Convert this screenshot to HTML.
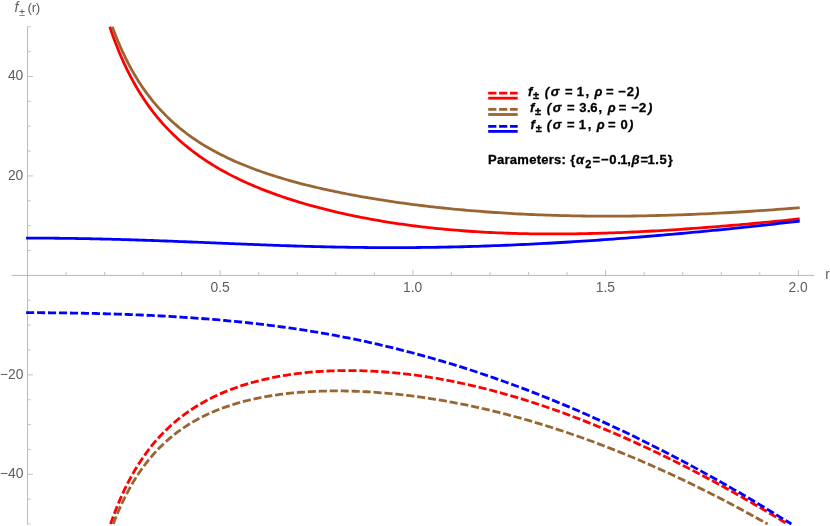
<!DOCTYPE html>
<html><head><meta charset="utf-8"><title>plot</title>
<style>
html,body{margin:0;padding:0;background:#fff;}
body{width:830px;height:526px;overflow:hidden;position:relative;font-family:"Liberation Sans",sans-serif;}
svg{position:absolute;left:0;top:0;display:block;will-change:transform;}
text{font-family:"Liberation Sans",sans-serif;}
.tk{font-size:13.8px;fill:#5e5e5e;}
.lg{font-size:13px;font-weight:bold;fill:#000;stroke:#000;stroke-width:0.3px;}
.it{font-style:italic;}
</style></head><body>
<svg width="830" height="526" viewBox="0 0 830 526">
<defs><clipPath id="cp"><rect x="0" y="26" width="830" height="498.6"/></clipPath></defs>
<rect width="830" height="526" fill="#fff"/>
<g stroke="#b8b8b8" stroke-width="1" fill="none">
<line x1="11.6" x2="814.1" y1="275.4" y2="275.4"/>
<line x1="27.55" x2="27.55" y1="26.8" y2="524.2"/>
</g>
<g stroke="#c2c2c2" stroke-width="1" fill="none">
<line x1="66.00" x2="66.00" y1="275.40" y2="272.10"/>
<line x1="104.54" x2="104.54" y1="275.40" y2="272.10"/>
<line x1="143.09" x2="143.09" y1="275.40" y2="272.10"/>
<line x1="181.63" x2="181.63" y1="275.40" y2="272.10"/>
<line x1="220.17" x2="220.17" y1="275.40" y2="269.90"/>
<line x1="258.72" x2="258.72" y1="275.40" y2="272.10"/>
<line x1="297.26" x2="297.26" y1="275.40" y2="272.10"/>
<line x1="335.81" x2="335.81" y1="275.40" y2="272.10"/>
<line x1="374.35" x2="374.35" y1="275.40" y2="272.10"/>
<line x1="412.90" x2="412.90" y1="275.40" y2="269.90"/>
<line x1="451.44" x2="451.44" y1="275.40" y2="272.10"/>
<line x1="489.99" x2="489.99" y1="275.40" y2="272.10"/>
<line x1="528.53" x2="528.53" y1="275.40" y2="272.10"/>
<line x1="567.08" x2="567.08" y1="275.40" y2="272.10"/>
<line x1="605.62" x2="605.62" y1="275.40" y2="269.90"/>
<line x1="644.17" x2="644.17" y1="275.40" y2="272.10"/>
<line x1="682.72" x2="682.72" y1="275.40" y2="272.10"/>
<line x1="721.26" x2="721.26" y1="275.40" y2="272.10"/>
<line x1="759.81" x2="759.81" y1="275.40" y2="272.10"/>
<line x1="798.35" x2="798.35" y1="275.40" y2="269.90"/>
<line x1="27.45" x2="30.75" y1="524.02" y2="524.02"/>
<line x1="27.45" x2="30.75" y1="499.16" y2="499.16"/>
<line x1="27.45" x2="32.95" y1="474.30" y2="474.30"/>
<line x1="27.45" x2="30.75" y1="449.44" y2="449.44"/>
<line x1="27.45" x2="30.75" y1="424.57" y2="424.57"/>
<line x1="27.45" x2="30.75" y1="399.71" y2="399.71"/>
<line x1="27.45" x2="32.95" y1="374.85" y2="374.85"/>
<line x1="27.45" x2="30.75" y1="349.99" y2="349.99"/>
<line x1="27.45" x2="30.75" y1="325.12" y2="325.12"/>
<line x1="27.45" x2="30.75" y1="300.26" y2="300.26"/>
<line x1="27.45" x2="30.75" y1="250.54" y2="250.54"/>
<line x1="27.45" x2="30.75" y1="225.67" y2="225.67"/>
<line x1="27.45" x2="30.75" y1="200.81" y2="200.81"/>
<line x1="27.45" x2="32.95" y1="175.95" y2="175.95"/>
<line x1="27.45" x2="30.75" y1="151.09" y2="151.09"/>
<line x1="27.45" x2="30.75" y1="126.22" y2="126.22"/>
<line x1="27.45" x2="30.75" y1="101.36" y2="101.36"/>
<line x1="27.45" x2="32.95" y1="76.50" y2="76.50"/>
<line x1="27.45" x2="30.75" y1="51.64" y2="51.64"/>
<line x1="27.45" x2="30.75" y1="26.77" y2="26.77"/>
</g>
<g fill="none" stroke-width="2.8" stroke-linejoin="round">
<path d="M109.77,26.78 L109.96,27.33 L110.30,28.34 L110.74,29.64 L111.26,31.16 L111.85,32.86 L112.51,34.71 L113.22,36.69 L113.99,38.78 L114.80,40.97 L115.66,43.24 L116.57,45.58 L117.52,47.98 L118.51,50.42 L119.53,52.91 L120.60,55.43 L121.70,57.97 L122.83,60.54 L124.00,63.12 L125.20,65.71 L126.44,68.30 L127.70,70.89 L129.00,73.48 L130.33,76.06 L131.68,78.63 L133.07,81.18 L134.48,83.72 L135.92,86.25 L137.38,88.75 L138.87,91.23 L140.39,93.69 L141.94,96.12 L143.50,98.53 L145.10,100.91 L146.72,103.26 L148.36,105.58 L150.02,107.88 L151.71,110.14 L153.42,112.38 L155.16,114.58 L156.92,116.76 L158.70,118.90 L160.50,121.02 L162.32,123.10 L164.16,125.15 L166.03,127.17 L167.91,129.16 L169.82,131.12 L171.75,133.05 L173.69,134.95 L175.66,136.82 L177.65,138.67 L179.65,140.48 L181.68,142.26 L183.72,144.02 L185.79,145.75 L187.87,147.45 L189.97,149.12 L192.09,150.77 L194.23,152.39 L196.38,153.99 L198.56,155.56 L200.75,157.10 L202.96,158.62 L205.19,160.12 L207.43,161.60 L209.69,163.05 L211.97,164.47 L214.27,165.88 L216.58,167.26 L218.92,168.62 L221.26,169.96 L223.63,171.28 L226.01,172.58 L228.40,173.86 L230.82,175.12 L233.24,176.37 L235.69,177.59 L238.15,178.79 L240.63,179.98 L243.12,181.15 L245.63,182.30 L248.15,183.43 L250.69,184.55 L253.24,185.64 L255.81,186.73 L258.40,187.80 L261.00,188.85 L263.61,189.88 L266.24,190.91 L268.89,191.91 L271.55,192.90 L274.22,193.88 L276.91,194.85 L279.61,195.79 L282.33,196.73 L285.06,197.65 L287.81,198.56 L290.57,199.45 L293.34,200.34 L296.13,201.21 L298.93,202.06 L301.75,202.91 L304.58,203.74 L307.42,204.56 L310.28,205.36 L313.15,206.16 L316.04,206.94 L318.94,207.71 L321.85,208.47 L324.77,209.22 L327.71,209.95 L330.66,210.68 L333.63,211.39 L336.61,212.09 L339.60,212.78 L342.60,213.46 L345.62,214.13 L348.65,214.78 L351.69,215.43 L354.75,216.06 L357.82,216.68 L360.90,217.29 L363.99,217.89 L367.10,218.48 L370.22,219.06 L373.35,219.63 L376.49,220.18 L379.65,220.73 L382.82,221.26 L386.00,221.78 L389.19,222.29 L392.40,222.80 L395.62,223.28 L398.85,223.76 L402.09,224.23 L405.34,224.69 L408.61,225.13 L411.89,225.56 L415.18,225.99 L418.48,226.40 L421.79,226.80 L425.12,227.19 L428.45,227.57 L431.80,227.93 L435.16,228.29 L438.54,228.63 L441.92,228.97 L445.31,229.29 L448.72,229.60 L452.14,229.90 L455.57,230.19 L459.01,230.47 L462.46,230.74 L465.92,231.00 L469.40,231.24 L472.89,231.48 L476.38,231.70 L479.89,231.91 L483.41,232.11 L486.94,232.30 L490.48,232.49 L494.03,232.66 L497.60,232.81 L501.17,232.96 L504.76,233.10 L508.35,233.23 L511.96,233.35 L515.58,233.45 L519.21,233.55 L522.85,233.64 L526.50,233.71 L530.16,233.78 L533.83,233.83 L537.51,233.88 L541.20,233.92 L544.91,233.94 L548.62,233.96 L552.35,233.97 L556.08,233.96 L559.83,233.95 L563.58,233.93 L567.35,233.90 L571.12,233.86 L574.91,233.81 L578.71,233.75 L582.51,233.68 L586.33,233.61 L590.16,233.52 L594.00,233.43 L597.85,233.33 L601.70,233.22 L605.57,233.10 L609.45,232.97 L613.34,232.83 L617.24,232.68 L621.15,232.53 L625.07,232.37 L628.99,232.20 L632.93,232.02 L636.88,231.84 L640.84,231.64 L644.81,231.44 L648.79,231.23 L652.77,231.02 L656.77,230.79 L660.78,230.56 L664.80,230.32 L668.82,230.07 L672.86,229.82 L676.91,229.56 L680.96,229.29 L685.03,229.01 L689.10,228.73 L693.19,228.44 L697.28,228.14 L701.38,227.83 L705.50,227.52 L709.62,227.20 L713.75,226.88 L717.89,226.55 L722.04,226.21 L726.20,225.86 L730.37,225.51 L734.55,225.15 L738.74,224.79 L742.94,224.41 L747.15,224.04 L751.36,223.65 L755.59,223.26 L759.82,222.86 L764.07,222.46 L768.32,222.05 L772.58,221.63 L776.86,221.21 L781.14,220.78 L785.43,220.34 L789.72,219.90 L794.03,219.45 L798.35,219.00 L799.70,218.85" stroke="#ff0000" />
<path d="M112.30,26.77 L112.48,27.28 L112.82,28.20 L113.26,29.38 L113.78,30.77 L114.37,32.32 L115.03,34.00 L115.74,35.81 L116.50,37.72 L117.31,39.71 L118.17,41.78 L119.07,43.91 L120.02,46.09 L121.00,48.32 L122.03,50.59 L123.09,52.88 L124.18,55.20 L125.31,57.54 L126.48,59.89 L127.68,62.25 L128.91,64.61 L130.17,66.97 L131.46,69.32 L132.78,71.67 L134.13,74.01 L135.51,76.33 L136.91,78.64 L138.35,80.94 L139.81,83.21 L141.30,85.47 L142.81,87.70 L144.35,89.90 L145.91,92.09 L147.50,94.24 L149.11,96.38 L150.75,98.48 L152.41,100.56 L154.09,102.60 L155.79,104.62 L157.52,106.61 L159.27,108.58 L161.04,110.51 L162.84,112.41 L164.65,114.29 L166.49,116.13 L168.35,117.95 L170.23,119.73 L172.13,121.49 L174.05,123.22 L175.99,124.92 L177.95,126.59 L179.92,128.24 L181.92,129.85 L183.94,131.44 L185.98,133.01 L188.03,134.54 L190.11,136.05 L192.20,137.54 L194.32,139.00 L196.45,140.43 L198.59,141.84 L200.76,143.23 L202.94,144.59 L205.15,145.93 L207.37,147.25 L209.60,148.54 L211.86,149.82 L214.13,151.07 L216.42,152.30 L218.72,153.51 L221.04,154.70 L223.38,155.87 L225.74,157.02 L228.11,158.15 L230.50,159.26 L232.90,160.36 L235.32,161.43 L237.76,162.49 L240.21,163.54 L242.68,164.56 L245.16,165.57 L247.66,166.56 L250.17,167.54 L252.70,168.50 L255.25,169.45 L257.81,170.38 L260.38,171.30 L262.97,172.21 L265.58,173.10 L268.20,173.98 L270.83,174.84 L273.48,175.69 L276.15,176.53 L278.83,177.35 L281.52,178.17 L284.23,178.97 L286.95,179.76 L289.68,180.54 L292.43,181.31 L295.20,182.06 L297.98,182.81 L300.77,183.55 L303.57,184.27 L306.39,184.99 L309.23,185.69 L312.07,186.38 L314.94,187.07 L317.81,187.75 L320.70,188.41 L323.60,189.07 L326.51,189.72 L329.44,190.35 L332.38,190.98 L335.34,191.61 L338.30,192.22 L341.28,192.82 L344.28,193.42 L347.28,194.00 L350.30,194.58 L353.33,195.15 L356.38,195.72 L359.44,196.27 L362.51,196.82 L365.59,197.36 L368.68,197.89 L371.79,198.41 L374.91,198.93 L378.04,199.43 L381.19,199.93 L384.35,200.43 L387.52,200.91 L390.70,201.39 L393.89,201.86 L397.10,202.32 L400.31,202.78 L403.55,203.22 L406.79,203.66 L410.04,204.10 L413.31,204.52 L416.58,204.94 L419.87,205.35 L423.18,205.75 L426.49,206.15 L429.81,206.54 L433.15,206.92 L436.50,207.29 L439.86,207.66 L443.23,208.01 L446.61,208.37 L450.01,208.71 L453.41,209.05 L456.83,209.37 L460.26,209.69 L463.69,210.01 L467.15,210.31 L470.61,210.61 L474.08,210.90 L477.56,211.18 L481.06,211.46 L484.57,211.73 L488.08,211.99 L491.61,212.24 L495.15,212.48 L498.70,212.72 L502.26,212.95 L505.84,213.17 L509.42,213.38 L513.01,213.59 L516.62,213.79 L520.23,213.98 L523.86,214.16 L527.50,214.33 L531.14,214.50 L534.80,214.66 L538.47,214.81 L542.15,214.95 L545.84,215.08 L549.54,215.21 L553.25,215.33 L556.97,215.44 L560.70,215.54 L564.44,215.64 L568.20,215.72 L571.96,215.80 L575.73,215.87 L579.51,215.94 L583.31,215.99 L587.11,216.04 L590.92,216.08 L594.75,216.11 L598.58,216.13 L602.43,216.14 L606.28,216.15 L610.15,216.15 L614.02,216.14 L617.90,216.12 L621.80,216.10 L625.70,216.07 L629.62,216.03 L633.54,215.98 L637.47,215.92 L641.42,215.86 L645.37,215.78 L649.34,215.70 L653.31,215.62 L657.29,215.52 L661.28,215.42 L665.29,215.31 L669.30,215.19 L673.32,215.06 L677.35,214.93 L681.39,214.79 L685.44,214.64 L689.50,214.48 L693.57,214.32 L697.65,214.14 L701.74,213.96 L705.84,213.78 L709.95,213.58 L714.06,213.38 L718.19,213.17 L722.32,212.95 L726.47,212.73 L730.62,212.50 L734.79,212.26 L738.96,212.01 L743.14,211.76 L747.33,211.49 L751.54,211.23 L755.75,210.95 L759.97,210.67 L764.19,210.38 L768.43,210.08 L772.68,209.78 L776.93,209.46 L781.20,209.14 L785.47,208.82 L789.76,208.49 L794.05,208.15 L798.35,207.80 L799.70,207.69" stroke="#996633" />
<path d="M26.10,238.11 L27.64,238.11 L27.85,238.11 L28.23,238.11 L28.73,238.11 L29.31,238.11 L29.97,238.11 L30.71,238.11 L31.51,238.11 L32.36,238.11 L33.27,238.11 L34.24,238.11 L35.25,238.12 L36.31,238.12 L37.42,238.12 L38.57,238.13 L39.76,238.13 L40.99,238.14 L42.26,238.14 L43.57,238.15 L44.92,238.16 L46.30,238.17 L47.72,238.17 L49.17,238.18 L50.65,238.20 L52.17,238.21 L53.72,238.22 L55.30,238.24 L56.91,238.25 L58.55,238.27 L60.22,238.28 L61.92,238.30 L63.65,238.32 L65.40,238.35 L67.19,238.37 L69.00,238.39 L70.83,238.42 L72.70,238.45 L74.59,238.47 L76.50,238.50 L78.45,238.54 L80.41,238.57 L82.40,238.60 L84.42,238.64 L86.46,238.68 L88.52,238.72 L90.61,238.76 L92.72,238.80 L94.85,238.85 L97.01,238.90 L99.19,238.95 L101.39,239.00 L103.61,239.05 L105.86,239.10 L108.13,239.16 L110.41,239.22 L112.72,239.28 L115.06,239.34 L117.41,239.41 L119.78,239.47 L122.17,239.54 L124.59,239.61 L127.02,239.68 L129.47,239.76 L131.95,239.83 L134.44,239.91 L136.95,239.99 L139.49,240.07 L142.04,240.16 L144.61,240.24 L147.20,240.33 L149.81,240.42 L152.43,240.52 L155.08,240.61 L157.74,240.70 L160.43,240.80 L163.13,240.90 L165.84,241.00 L168.58,241.11 L171.34,241.21 L174.11,241.32 L176.90,241.43 L179.70,241.54 L182.53,241.65 L185.37,241.76 L188.23,241.87 L191.11,241.99 L194.00,242.11 L196.91,242.22 L199.84,242.34 L202.78,242.46 L205.74,242.58 L208.72,242.71 L211.71,242.83 L214.72,242.95 L217.74,243.08 L220.79,243.20 L223.84,243.33 L226.92,243.45 L230.01,243.58 L233.11,243.71 L236.23,243.83 L239.37,243.96 L242.52,244.09 L245.69,244.21 L248.87,244.34 L252.07,244.46 L255.28,244.59 L258.51,244.71 L261.76,244.83 L265.02,244.96 L268.29,245.08 L271.58,245.20 L274.88,245.32 L278.20,245.43 L281.54,245.55 L284.88,245.66 L288.25,245.77 L291.62,245.88 L295.01,245.99 L298.42,246.10 L301.84,246.20 L305.28,246.30 L308.72,246.40 L312.19,246.49 L315.66,246.59 L319.16,246.67 L322.66,246.76 L326.18,246.84 L329.71,246.92 L333.26,247.00 L336.82,247.07 L340.39,247.14 L343.98,247.20 L347.58,247.26 L351.20,247.32 L354.83,247.37 L358.47,247.42 L362.13,247.46 L365.79,247.50 L369.48,247.53 L373.17,247.56 L376.88,247.58 L380.60,247.60 L384.34,247.62 L388.09,247.62 L391.85,247.63 L395.62,247.63 L399.41,247.62 L403.21,247.61 L407.02,247.59 L410.85,247.57 L414.68,247.54 L418.54,247.50 L422.40,247.46 L426.28,247.42 L430.17,247.36 L434.07,247.31 L437.98,247.24 L441.91,247.17 L445.85,247.10 L449.80,247.02 L453.76,246.93 L457.74,246.84 L461.73,246.74 L465.73,246.63 L469.74,246.52 L473.77,246.40 L477.80,246.28 L481.85,246.15 L485.91,246.01 L489.99,245.87 L494.07,245.72 L498.17,245.57 L502.28,245.40 L506.40,245.24 L510.53,245.06 L514.68,244.89 L518.84,244.70 L523.00,244.51 L527.18,244.31 L531.38,244.11 L535.58,243.89 L539.80,243.68 L544.02,243.46 L548.26,243.23 L552.51,242.99 L556.77,242.75 L561.05,242.50 L565.33,242.25 L569.63,241.99 L573.93,241.72 L578.25,241.45 L582.58,241.17 L586.92,240.89 L591.27,240.60 L595.64,240.30 L600.01,240.00 L604.40,239.69 L608.80,239.37 L613.20,239.05 L617.62,238.72 L622.05,238.39 L626.49,238.05 L630.95,237.71 L635.41,237.35 L639.89,237.00 L644.37,236.63 L648.87,236.26 L653.37,235.89 L657.89,235.51 L662.42,235.12 L666.96,234.72 L671.51,234.32 L676.07,233.92 L680.64,233.51 L685.23,233.09 L689.82,232.66 L694.42,232.23 L699.04,231.80 L703.66,231.35 L708.30,230.91 L712.94,230.45 L717.60,229.99 L722.27,229.53 L726.94,229.05 L731.63,228.58 L736.33,228.09 L741.04,227.60 L745.76,227.10 L750.49,226.60 L755.23,226.09 L759.98,225.58 L764.74,225.06 L769.51,224.53 L774.29,224.00 L779.08,223.46 L783.88,222.92 L788.70,222.36 L793.52,221.81 L798.35,221.24 L799.70,221.09" stroke="#0000ff" />
<path d="M110.55,524.03 L110.73,523.50 L111.07,522.54 L111.50,521.31 L112.01,519.88 L112.60,518.27 L113.24,516.51 L113.94,514.64 L114.70,512.66 L115.50,510.59 L116.34,508.44 L117.23,506.23 L118.17,503.97 L119.14,501.65 L120.15,499.30 L121.19,496.92 L122.28,494.52 L123.39,492.10 L124.54,489.67 L125.72,487.23 L126.94,484.79 L128.18,482.35 L129.46,479.91 L130.76,477.49 L132.09,475.07 L133.45,472.67 L134.84,470.29 L136.25,467.93 L137.70,465.59 L139.16,463.27 L140.66,460.98 L142.17,458.72 L143.72,456.48 L145.28,454.27 L146.87,452.09 L148.49,449.94 L150.12,447.82 L151.79,445.73 L153.47,443.68 L155.17,441.66 L156.90,439.67 L158.65,437.71 L160.42,435.79 L162.21,433.90 L164.02,432.04 L165.86,430.22 L167.71,428.43 L169.59,426.68 L171.48,424.95 L173.39,423.26 L175.33,421.61 L177.28,419.98 L179.25,418.39 L181.24,416.83 L183.25,415.30 L185.28,413.81 L187.33,412.34 L189.40,410.91 L191.48,409.50 L193.58,408.13 L195.70,406.79 L197.84,405.47 L200.00,404.19 L202.17,402.93 L204.36,401.71 L206.57,400.51 L208.79,399.34 L211.03,398.19 L213.29,397.08 L215.56,395.99 L217.85,394.93 L220.16,393.89 L222.49,392.88 L224.83,391.89 L227.18,390.94 L229.55,390.00 L231.94,389.09 L234.35,388.21 L236.77,387.35 L239.20,386.51 L241.65,385.70 L244.12,384.91 L246.60,384.14 L249.09,383.40 L251.61,382.67 L254.13,381.98 L256.67,381.30 L259.23,380.65 L261.80,380.01 L264.39,379.40 L266.99,378.81 L269.60,378.24 L272.23,377.70 L274.87,377.17 L277.53,376.67 L280.20,376.18 L282.89,375.72 L285.59,375.28 L288.30,374.85 L291.03,374.45 L293.77,374.07 L296.53,373.70 L299.29,373.36 L302.08,373.04 L304.87,372.74 L307.68,372.45 L310.50,372.19 L313.34,371.95 L316.19,371.72 L319.05,371.52 L321.93,371.33 L324.82,371.17 L327.72,371.02 L330.64,370.89 L333.56,370.79 L336.50,370.70 L339.46,370.63 L342.42,370.59 L345.40,370.56 L348.39,370.55 L351.40,370.56 L354.42,370.59 L357.45,370.64 L360.49,370.71 L363.54,370.80 L366.61,370.91 L369.69,371.04 L372.78,371.19 L375.88,371.36 L379.00,371.55 L382.12,371.76 L385.26,371.99 L388.42,372.24 L391.58,372.51 L394.75,372.80 L397.94,373.11 L401.14,373.44 L404.35,373.80 L407.57,374.17 L410.81,374.56 L414.05,374.98 L417.31,375.42 L420.58,375.87 L423.86,376.35 L427.15,376.85 L430.46,377.37 L433.77,377.91 L437.10,378.48 L440.44,379.06 L443.79,379.67 L447.15,380.29 L450.52,380.94 L453.90,381.61 L457.30,382.31 L460.70,383.02 L464.12,383.75 L467.54,384.51 L470.98,385.29 L474.43,386.09 L477.89,386.92 L481.36,387.76 L484.84,388.63 L488.34,389.52 L491.84,390.43 L495.35,391.36 L498.88,392.31 L502.41,393.29 L505.96,394.29 L509.52,395.31 L513.09,396.35 L516.66,397.42 L520.25,398.50 L523.85,399.61 L527.46,400.74 L531.08,401.90 L534.71,403.07 L538.35,404.27 L542.00,405.49 L545.66,406.73 L549.34,408.00 L553.02,409.28 L556.71,410.59 L560.41,411.92 L564.13,413.27 L567.85,414.64 L571.58,416.04 L575.33,417.46 L579.08,418.90 L582.84,420.36 L586.62,421.84 L590.40,423.35 L594.19,424.88 L598.00,426.43 L601.81,428.00 L605.63,429.59 L609.46,431.21 L613.31,432.84 L617.16,434.50 L621.02,436.18 L624.89,437.89 L628.78,439.61 L632.67,441.36 L636.57,443.13 L640.48,444.92 L644.40,446.73 L648.33,448.56 L652.27,450.42 L656.22,452.30 L660.18,454.20 L664.15,456.12 L668.12,458.06 L672.11,460.03 L676.11,462.01 L680.12,464.02 L684.13,466.05 L688.16,468.11 L692.19,470.18 L696.23,472.28 L700.29,474.40 L704.35,476.54 L708.42,478.70 L712.50,480.89 L716.59,483.10 L720.69,485.33 L724.80,487.58 L728.92,489.85 L733.05,492.15 L737.18,494.47 L741.33,496.81 L745.48,499.17 L749.65,501.55 L753.82,503.96 L758.00,506.39 L762.19,508.84 L766.39,511.32 L770.60,513.81 L774.82,516.33 L779.04,518.87 L783.28,521.44 L787.52,524.02" stroke="#ff0000" stroke-dasharray="8.1 2.86" />
<path d="M113.21,524.03 L113.39,523.56 L113.71,522.72 L114.13,521.64 L114.63,520.38 L115.19,518.96 L115.81,517.42 L116.49,515.77 L117.22,514.02 L117.99,512.20 L118.81,510.30 L119.67,508.35 L120.57,506.35 L121.51,504.31 L122.49,502.23 L123.50,500.13 L124.54,498.00 L125.62,495.86 L126.73,493.70 L127.88,491.54 L129.05,489.38 L130.25,487.21 L131.48,485.05 L132.74,482.90 L134.03,480.76 L135.35,478.63 L136.69,476.52 L138.06,474.42 L139.45,472.34 L140.87,470.28 L142.31,468.25 L143.78,466.23 L145.27,464.25 L146.78,462.28 L148.32,460.35 L149.88,458.44 L151.47,456.56 L153.07,454.71 L154.70,452.89 L156.35,451.09 L158.02,449.33 L159.71,447.60 L161.42,445.90 L163.15,444.23 L164.90,442.59 L166.67,440.98 L168.47,439.40 L170.28,437.85 L172.11,436.33 L173.96,434.84 L175.83,433.39 L177.72,431.96 L179.62,430.56 L181.55,429.19 L183.49,427.86 L185.45,426.55 L187.43,425.27 L189.43,424.02 L191.44,422.80 L193.48,421.60 L195.52,420.44 L197.59,419.30 L199.67,418.19 L201.77,417.10 L203.89,416.05 L206.03,415.01 L208.18,414.01 L210.34,413.03 L212.52,412.08 L214.72,411.15 L216.94,410.24 L219.17,409.36 L221.42,408.51 L223.68,407.67 L225.96,406.86 L228.25,406.08 L230.56,405.32 L232.88,404.58 L235.22,403.86 L237.57,403.16 L239.94,402.49 L242.33,401.84 L244.72,401.20 L247.14,400.59 L249.57,400.00 L252.01,399.43 L254.46,398.89 L256.93,398.36 L259.42,397.85 L261.92,397.36 L264.43,396.89 L266.96,396.44 L269.50,396.00 L272.06,395.59 L274.63,395.20 L277.21,394.82 L279.80,394.46 L282.41,394.12 L285.04,393.80 L287.67,393.49 L290.32,393.21 L292.99,392.94 L295.66,392.69 L298.35,392.45 L301.06,392.23 L303.77,392.03 L306.50,391.85 L309.24,391.68 L312.00,391.53 L314.77,391.40 L317.55,391.28 L320.34,391.18 L323.14,391.10 L325.96,391.03 L328.79,390.98 L331.63,390.94 L334.49,390.92 L337.36,390.92 L340.24,390.93 L343.13,390.96 L346.03,391.01 L348.95,391.07 L351.88,391.15 L354.82,391.24 L357.77,391.35 L360.74,391.47 L363.71,391.61 L366.70,391.77 L369.70,391.94 L372.71,392.13 L375.73,392.34 L378.77,392.56 L381.82,392.80 L384.87,393.05 L387.94,393.32 L391.03,393.60 L394.12,393.91 L397.22,394.22 L400.34,394.56 L403.46,394.91 L406.60,395.27 L409.75,395.66 L412.91,396.06 L416.08,396.47 L419.27,396.91 L422.46,397.36 L425.66,397.82 L428.88,398.30 L432.11,398.80 L435.34,399.32 L438.59,399.85 L441.85,400.41 L445.12,400.97 L448.40,401.56 L451.69,402.16 L455.00,402.78 L458.31,403.42 L461.63,404.07 L464.97,404.74 L468.31,405.43 L471.67,406.14 L475.03,406.87 L478.41,407.61 L481.80,408.37 L485.19,409.15 L488.60,409.95 L492.02,410.76 L495.45,411.60 L498.88,412.45 L502.33,413.32 L505.79,414.21 L509.26,415.12 L512.74,416.05 L516.23,416.99 L519.73,417.96 L523.24,418.94 L526.76,419.94 L530.29,420.96 L533.83,422.00 L537.38,423.06 L540.94,424.14 L544.51,425.24 L548.08,426.36 L551.67,427.49 L555.27,428.65 L558.88,429.83 L562.50,431.02 L566.13,432.24 L569.77,433.48 L573.41,434.73 L577.07,436.01 L580.74,437.30 L584.41,438.62 L588.10,439.95 L591.80,441.31 L595.50,442.69 L599.22,444.08 L602.94,445.50 L606.67,446.94 L610.42,448.39 L614.17,449.87 L617.93,451.37 L621.70,452.89 L625.48,454.43 L629.27,455.99 L633.07,457.57 L636.88,459.17 L640.70,460.80 L644.52,462.44 L648.36,464.11 L652.21,465.79 L656.06,467.50 L659.92,469.23 L663.80,470.98 L667.68,472.75 L671.57,474.54 L675.47,476.35 L679.38,478.19 L683.30,480.04 L687.23,481.92 L691.16,483.82 L695.11,485.74 L699.06,487.68 L703.02,489.64 L707.00,491.63 L710.98,493.64 L714.97,495.66 L718.96,497.71 L722.97,499.79 L726.99,501.88 L731.01,504.00 L735.05,506.13 L739.09,508.29 L743.14,510.47 L747.20,512.68 L751.27,514.90 L755.34,517.15 L759.43,519.42 L763.52,521.71 L767.63,524.02" stroke="#996633" stroke-dasharray="8.1 2.86" />
<path d="M26.10,312.69 L27.64,312.69 L27.85,312.69 L28.23,312.69 L28.72,312.69 L29.30,312.69 L29.95,312.69 L30.68,312.70 L31.47,312.70 L32.32,312.70 L33.22,312.70 L34.18,312.70 L35.18,312.70 L36.23,312.71 L37.33,312.71 L38.47,312.71 L39.65,312.72 L40.87,312.72 L42.13,312.73 L43.43,312.74 L44.76,312.74 L46.13,312.75 L47.53,312.76 L48.97,312.77 L50.44,312.78 L51.94,312.79 L53.48,312.81 L55.04,312.82 L56.64,312.84 L58.27,312.85 L59.92,312.87 L61.60,312.89 L63.32,312.91 L65.06,312.93 L66.82,312.96 L68.62,312.98 L70.44,313.01 L72.29,313.03 L74.16,313.06 L76.06,313.09 L77.98,313.13 L79.93,313.16 L81.90,313.20 L83.90,313.24 L85.92,313.28 L87.97,313.32 L90.03,313.36 L92.13,313.41 L94.24,313.46 L96.38,313.51 L98.54,313.56 L100.72,313.62 L102.92,313.67 L105.15,313.73 L107.39,313.80 L109.66,313.86 L111.95,313.93 L114.26,314.00 L116.59,314.08 L118.94,314.15 L121.31,314.23 L123.70,314.32 L126.11,314.40 L128.54,314.49 L131.00,314.58 L133.47,314.68 L135.96,314.78 L138.47,314.88 L140.99,314.99 L143.54,315.10 L146.11,315.22 L148.69,315.34 L151.29,315.46 L153.92,315.59 L156.56,315.72 L159.21,315.85 L161.89,315.99 L164.58,316.14 L167.29,316.29 L170.02,316.44 L172.77,316.60 L175.54,316.77 L178.32,316.94 L181.12,317.11 L183.93,317.29 L186.76,317.48 L189.61,317.67 L192.48,317.87 L195.36,318.08 L198.26,318.29 L201.18,318.50 L204.11,318.73 L207.06,318.96 L210.03,319.20 L213.01,319.44 L216.01,319.69 L219.02,319.95 L222.05,320.22 L225.10,320.50 L228.16,320.78 L231.24,321.07 L234.33,321.37 L237.44,321.68 L240.56,321.99 L243.70,322.32 L246.85,322.65 L250.02,323.00 L253.21,323.35 L256.41,323.71 L259.62,324.09 L262.85,324.47 L266.09,324.86 L269.35,325.27 L272.63,325.68 L275.92,326.11 L279.22,326.55 L282.54,327.00 L285.87,327.46 L289.21,327.93 L292.57,328.41 L295.95,328.91 L299.34,329.42 L302.74,329.94 L306.16,330.47 L309.59,331.02 L313.04,331.58 L316.50,332.16 L319.97,332.74 L323.46,333.35 L326.96,333.96 L330.47,334.59 L334.00,335.24 L337.54,335.90 L341.10,336.57 L344.66,337.27 L348.25,337.97 L351.84,338.69 L355.45,339.43 L359.07,340.18 L362.71,340.95 L366.36,341.74 L370.02,342.54 L373.69,343.36 L377.38,344.20 L381.08,345.05 L384.80,345.92 L388.52,346.81 L392.26,347.72 L396.02,348.64 L399.78,349.58 L403.56,350.54 L407.35,351.52 L411.15,352.51 L414.97,353.53 L418.80,354.56 L422.64,355.61 L426.49,356.68 L430.36,357.77 L434.24,358.88 L438.13,360.01 L442.03,361.15 L445.95,362.32 L449.87,363.51 L453.81,364.71 L457.77,365.94 L461.73,367.19 L465.71,368.45 L469.69,369.74 L473.70,371.04 L477.71,372.37 L481.73,373.72 L485.77,375.09 L489.82,376.48 L493.88,377.88 L497.95,379.32 L502.03,380.77 L506.13,382.24 L510.24,383.73 L514.35,385.25 L518.48,386.78 L522.63,388.34 L526.78,389.92 L530.95,391.52 L535.12,393.14 L539.31,394.79 L543.51,396.45 L547.72,398.14 L551.94,399.85 L556.18,401.58 L560.42,403.33 L564.68,405.11 L568.95,406.91 L573.23,408.73 L577.52,410.57 L581.82,412.44 L586.13,414.32 L590.45,416.24 L594.79,418.17 L599.14,420.13 L603.49,422.11 L607.86,424.11 L612.24,426.13 L616.63,428.18 L621.03,430.25 L625.44,432.35 L629.86,434.47 L634.30,436.61 L638.74,438.78 L643.20,440.97 L647.66,443.18 L652.14,445.42 L656.63,447.68 L661.13,449.96 L665.63,452.27 L670.15,454.61 L674.68,456.96 L679.22,459.34 L683.78,461.75 L688.34,464.18 L692.91,466.64 L697.49,469.12 L702.09,471.62 L706.69,474.15 L711.30,476.71 L715.93,479.28 L720.56,481.89 L725.21,484.52 L729.86,487.17 L734.53,489.85 L739.21,492.56 L743.89,495.29 L748.59,498.05 L753.30,500.83 L758.01,503.64 L762.74,506.47 L767.48,509.33 L772.23,512.22 L776.98,515.13 L781.75,518.07 L786.53,521.03 L791.32,524.02" stroke="#0000ff" stroke-dasharray="8.1 2.86" />
</g>
<!-- tick labels -->
<g class="tk" text-anchor="end">
<text x="23.3" y="80.4">40</text>
<text x="23.3" y="179.8">20</text>
<text x="23.3" y="378.6">−20</text>
<text x="23.3" y="478.1">−40</text>
</g>
<g class="tk" text-anchor="middle">
<text x="220.1" y="291.8">0.5</text>
<text x="412.6" y="291.8">1.0</text>
<text x="605.3" y="291.8">1.5</text>
<text x="798.1" y="291.8">2.0</text>
</g>
<text class="tk" x="825.2" y="278.5">r</text>
<!-- axis title -->
<text class="tk it" x="14.5" y="11.5" style="font-size:14.2px">f</text>
<text class="tk" x="19.0" y="16.0" style="font-size:11px">±</text>
<text class="tk" x="27.5" y="11.6" style="font-size:13.5px;letter-spacing:-0.35px">(r)</text>
<!-- legend lines -->
<g fill="none" stroke-width="2.8">
<line x1="488.2" x2="517.7" y1="93.2" y2="93.2" stroke="#ff0000" stroke-dasharray="8.2 2.7"/>
<line x1="488.2" x2="517.7" y1="98.2" y2="98.2" stroke="#ff0000"/>
<line x1="488.2" x2="517.7" y1="109.4" y2="109.4" stroke="#996633" stroke-dasharray="8.2 2.7"/>
<line x1="488.2" x2="517.7" y1="114.5" y2="114.5" stroke="#996633"/>
<line x1="488.2" x2="517.7" y1="126.4" y2="126.4" stroke="#0000ff" stroke-dasharray="8.2 2.7"/>
<line x1="488.2" x2="517.7" y1="131.4" y2="131.4" stroke="#0000ff"/>
</g>
<!-- legend text -->
<g class="lg">
<text x="527.93" y="95.70" class="it">f</text>
<text x="533.10" y="98.80" style="font-size:11px">±</text>
<text x="544.86" y="95.70" class="it">(</text>
<text x="550.71" y="95.70" class="it">σ</text>
<text x="564.90" y="95.70">=</text>
<text x="576.67" y="95.70">1</text>
<text x="585.43" y="95.70">,</text>
<text x="594.57" y="95.70" class="it">ρ</text>
<text x="606.10" y="95.70">=</text>
<text x="618.25" y="95.70">−</text>
<text x="626.67" y="95.70">2</text>
<text x="635.00" y="95.70" class="it">)</text>
<text x="529.93" y="112.00" class="it">f</text>
<text x="535.10" y="115.10" style="font-size:11px">±</text>
<text x="546.86" y="112.00" class="it">(</text>
<text x="552.63" y="112.00" class="it">σ</text>
<text x="566.90" y="112.00">=</text>
<text x="579.33" y="112.00">3</text>
<text x="587.01" y="112.00">.</text>
<text x="590.27" y="112.00">6</text>
<text x="598.53" y="112.00">,</text>
<text x="607.77" y="112.00" class="it">ρ</text>
<text x="618.70" y="112.00">=</text>
<text x="631.15" y="112.00">−</text>
<text x="639.07" y="112.00">2</text>
<text x="648.00" y="112.00" class="it">)</text>
<text x="530.58" y="128.70" class="it">f</text>
<text x="535.76" y="131.80" style="font-size:11px">±</text>
<text x="546.86" y="128.70" class="it">(</text>
<text x="552.71" y="128.70" class="it">σ</text>
<text x="566.90" y="128.70">=</text>
<text x="578.67" y="128.70">1</text>
<text x="587.68" y="128.70">,</text>
<text x="596.70" y="128.70" class="it">ρ</text>
<text x="608.05" y="128.70">=</text>
<text x="620.50" y="128.70">0</text>
<text x="628.90" y="128.70" class="it">)</text>
<text x="570.30" y="163.50">{</text>
<text x="576.11" y="163.50" class="it">α</text>
<text x="585.20" y="167.70" style="font-size:11px">2</text>
<text x="592.40" y="163.50">=</text>
<text x="601.05" y="163.50">−</text>
<text x="609.32" y="163.50">0</text>
<text x="617.23" y="163.50">.</text>
<text x="620.17" y="163.50">1</text>
<text x="627.18" y="163.50">,</text>
<text x="631.46" y="163.50" class="it">β</text>
<text x="640.45" y="163.50">=</text>
<text x="647.62" y="163.50">1</text>
<text x="655.23" y="163.50">.</text>
<text x="659.62" y="163.50">5</text>
<text x="667.68" y="163.50">}</text>
<text x="488.1" y="163.5" style="letter-spacing:0.26px">Parameters:</text>
</g>
</svg>
</body></html>
